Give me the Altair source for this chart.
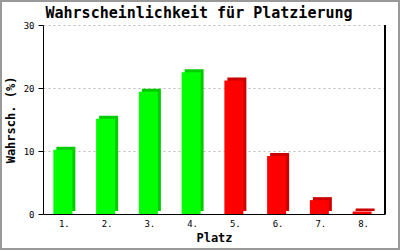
import altair as alt
import pandas as pd

places = ["1.", "2.", "3.", "4.", "5.", "6.", "7.", "8."]
probs = [10.2, 15.1, 19.4, 22.5, 21.2, 9.2, 2.2, 0.4]
groups = ["top", "top", "top", "top", "bottom", "bottom", "bottom", "bottom"]
title_text = ["Wahrscheinlichkeit für Platzierung"]

df = pd.DataFrame({"Platz": places, "p": probs, "g": groups})
tdf = pd.DataFrame({"t": title_text})

W, H = 342, 189
MONO = "DejaVu Sans Mono"

x = alt.X("Platz:N", sort=places, title="Platz",
          scale=alt.Scale(paddingInner=0.5, paddingOuter=0.25),
          axis=alt.Axis(labelAngle=0, ticks=False, domain=True, domainColor="black",
                        labelFont=MONO, labelFontSize=9, labelColor="black", labelPadding=5,
                        titleFont=MONO, titleFontSize=12, titleFontWeight="bold",
                        titleColor="black", titlePadding=4, grid=False))
y = alt.Y("p:Q", title="Wahrsch. (%)",
          scale=alt.Scale(domain=[0, 30]),
          axis=alt.Axis(values=[0, 10, 20, 30], tickSize=5, tickColor="black",
                        domainColor="black", labelFont=MONO, labelFontSize=9,
                        labelColor="black", labelPadding=4,
                        titleFont=MONO, titleFontSize=12, titleFontWeight="bold",
                        titleColor="black", titlePadding=6,
                        grid=True, gridColor="#bbbbbb", gridDash=[2, 3]))

side = alt.Chart(df).mark_bar(size=19, xOffset=1.5, yOffset=-3).encode(
    x=x, y=y,
    color=alt.Color("g:N", scale=alt.Scale(domain=["top", "bottom"],
                                           range=["#00cc00", "#cc0000"]), legend=None),
)
front = alt.Chart(df).mark_bar(size=19, xOffset=-1.5).encode(
    x=x, y=y,
    color=alt.Color("g:N", scale=alt.Scale(domain=["top", "bottom"],
                                           range=["#00ff00", "#ff0000"]), legend=None),
)
right_line = alt.Chart(df).mark_rule(color="black", strokeWidth=1).encode(
    x=alt.value(W), y=alt.value(0), y2=alt.value(H))
border = alt.Chart(df).mark_rect(fill=None, stroke="#999999", strokeWidth=2).encode(
    x=alt.value(-42), x2=alt.value(356), y=alt.value(-24), y2=alt.value(224))
title = alt.Chart(tdf).mark_text(font=MONO, fontSize=15, fontWeight="bold", color="black",
                                 align="center", baseline="alphabetic").encode(
    text="t:N", x=alt.value(156), y=alt.value(-7))

chart = alt.layer(border, side, front, right_line, title).resolve_scale(color="independent").properties(
    width=W, height=H,
    autosize=alt.AutoSizeParams(type="none"),
    padding={"left": 43, "top": 25, "right": 15, "bottom": 36},
    background="white",
).configure_view(stroke=None)

chart.save("out.html", embed_options={"renderer": "svg", "actions": False})
